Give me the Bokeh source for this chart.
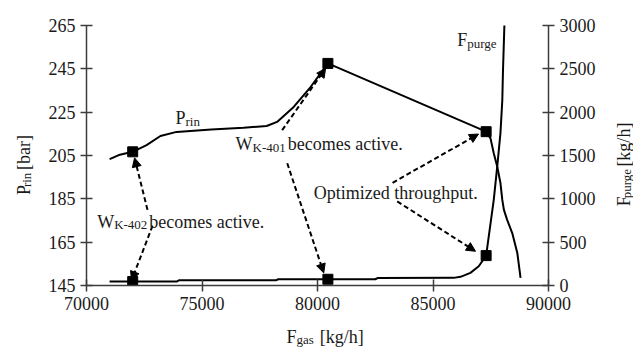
import math
from bokeh.plotting import figure
from bokeh.layouts import row, column
from bokeh.models import Range1d, LinearAxis, FixedTicker, Label, Arrow, NormalHead
from bokeh.core.properties import value
from bokeh.embed import file_html
from bokeh.resources import INLINE

# ---------------- data ----------------
fgas_prin = [71000, 71400, 72000, 72600, 73200, 73900, 75400, 76800, 77800, 78250,
             78970, 79700, 80450, 87300, 87490, 87630, 87780, 87920, 88000, 88070,
             88210, 88430, 88650, 88790]
p_rin = [203.3, 205.2, 206.7, 209.8, 214.0, 215.9, 217.0, 217.8, 218.6, 220.5,
         227.4, 236.6, 247.5, 216.0, 212.9, 206.0, 199.9, 192.3, 184.5, 179.9,
         175.3, 169.2, 160.0, 148.5]

fgas_purge = [71000, 73900, 74000, 78200, 78300, 82500, 82600, 85900, 86190, 86620,
              86980, 87300, 87630, 87780, 87920, 88000, 88030, 88095]
f_purge = [46, 46, 60, 60, 72, 72, 86, 88, 100, 146,
           222, 345, 988, 1371, 1758, 2137, 2482, 3040]

marker_fgas = [72000, 80450, 87300]
marker_prin = [206.7, 247.5, 216.0]
marker_purge = [46, 72, 345]

x_ticks = [70000, 75000, 80000, 85000, 90000]
left_ticks = [145, 165, 185, 205, 225, 245, 265]
right_ticks = [0, 500, 1000, 1500, 2000, 2500, 3000]

# arrows (x_start, y_start, x_end, y_end) in F_gas / P_rin units
arrow_x0 = [72640, 72860, 78470, 78690, 83250, 83450]
arrow_y0 = [179.9, 172.6, 216.7, 201.4, 192.4, 183.8]
arrow_x1 = [72080, 71950, 80350, 80270, 86970, 86840]
arrow_y1 = [203.9, 147.3, 245.2, 150.8, 214.9, 160.8]

# ---------------- layout sizes ----------------
W, H = 633, 347
LEFT_W, RIGHT_W, BOTTOM_H = 40, 33, 22
MAIN_W = W - LEFT_W - RIGHT_W
MAIN_H = H - BOTTOM_H
FL, FR, FT, FB = 86, 548, 25, 285          # frame edges in page pixels

FONT = "Liberation Serif"
MAIN = 18
SUB = 13
INK = "#1a1a1a"
AX = "#3c3c3c"
LIFT = 4      # baseline correction in px

p = figure(width=MAIN_W, height=MAIN_H,
           x_range=Range1d(70000, 90000), y_range=Range1d(145, 265),
           output_backend="svg", toolbar_location=None,
           min_border_left=FL - LEFT_W, min_border_right=(LEFT_W + MAIN_W) - FR,
           min_border_top=FT, min_border_bottom=MAIN_H - FB)
p.outline_line_color = None
p.xgrid.visible = False
p.ygrid.visible = False

p.extra_y_ranges = {"purge": Range1d(0, 3000)}
raxis = LinearAxis(y_range_name="purge")
p.add_layout(raxis, "right")

p.xaxis[0].ticker = FixedTicker(ticks=x_ticks)
p.yaxis[0].ticker = FixedTicker(ticks=left_ticks)
raxis.ticker = FixedTicker(ticks=right_ticks)

for ax in [p.xaxis[0], p.yaxis[0], raxis]:
    ax.major_label_text_font = FONT
    ax.major_label_text_font_size = f"{MAIN}px"
    ax.major_label_text_color = INK
    ax.axis_line_color = AX
    ax.axis_line_width = 1.5
    ax.major_tick_line_color = AX
    ax.major_tick_line_width = 1.5
    ax.major_tick_in = 6
    ax.major_tick_out = 6
    ax.minor_tick_line_color = None
    ax.major_label_standoff = 5

# ---------------- curves ----------------
p.line(fgas_prin, p_rin, line_color="black", line_width=2)
p.line(fgas_purge, f_purge, line_color="black", line_width=2, y_range_name="purge")
p.scatter(marker_fgas, marker_prin, marker="square", size=10, color="black")
p.scatter(marker_fgas, marker_purge, marker="square", size=10, color="black",
          y_range_name="purge")

for x0, y0, x1, y1 in zip(arrow_x0, arrow_y0, arrow_x1, arrow_y1):
    p.add_layout(Arrow(x_start=x0, y_start=y0, x_end=x1, y_end=y1,
                       line_color="black", line_width=2, line_dash="5 3",
                       end=NormalHead(size=9, fill_color="black", line_color="black",
                                      line_width=1)))

# ---------------- in-plot texts ----------------
def data_label(text, x, y, size, dx=0, dy=0):
    p.add_layout(Label(x=x, y=y, x_offset=dx, y_offset=dy + LIFT, text=text,
                       text_font=FONT, text_font_size=f"{size}px",
                       text_color=INK, text_baseline="alphabetic"))

def sub_text(x, y, main, sub, rest, w_main, w_sub):
    data_label(main, x, y, MAIN)
    data_label(sub, x, y, SUB, dx=w_main, dy=-3)
    if rest:
        data_label(rest, x, y, MAIN, dx=w_main + w_sub + 2)

sub_text(73850, 220.4, "P", "rin", "", 10, 14.4)
sub_text(86050, 256.3, "F", "purge", "", 10, 29.6)
sub_text(70460, 172.6, "W", "K-402", "becomes active.", 17, 33.2)
sub_text(76450, 208.4, "W", "K-401", "becomes active.", 17, 33.2)
data_label("Optimized throughput.", 79840, 185.8, MAIN)

# ---------------- axis titles in small text panels ----------------
def text_panel(w, h):
    f = figure(width=w, height=h, x_range=Range1d(0, w), y_range=Range1d(0, h),
               output_backend="svg", toolbar_location=None,
               x_axis_type=None, y_axis_type=None,
               min_border_left=0, min_border_right=0,
               min_border_top=0, min_border_bottom=0)
    f.outline_line_color = None
    f.xgrid.visible = False
    f.ygrid.visible = False
    return f

def put(f, text, x, y, size, angle=0.0):
    f.text(x=[x], y=[y], text=[text], angle=angle,
           text_font=value(FONT), text_font_size=value(f"{size}px"),
           text_color=INK, text_align=value("left"),
           text_baseline=value("alphabetic"))

up = math.pi / 2

left_fig = text_panel(LEFT_W, MAIN_H)
lx, ly = 27 - LIFT, 113
put(left_fig, "P", lx, ly, MAIN, up)
put(left_fig, "rin", lx + 3, ly + 10, SUB, up)
put(left_fig, "[bar]", lx, ly + 10 + 14.4 + 7, MAIN, up)

right_fig = text_panel(RIGHT_W, MAIN_H)
rx, ry = 27 - LIFT, 99
put(right_fig, "F", rx, ry, MAIN, up)
put(right_fig, "purge", rx + 3, ry + 10, SUB, up)
put(right_fig, "[kg/h]", rx, ry + 10 + 29.6 + 10, MAIN, up)

bottom_fig = text_panel(W, BOTTOM_H)
bx, by = 286, 7 + LIFT
put(bottom_fig, "F", bx, by, MAIN)
put(bottom_fig, "gas", bx + 10, by - 2.5, SUB)
put(bottom_fig, "[kg/h]", bx + 10 + 17.3 + 6, by, MAIN)

layout = column(row(left_fig, p, right_fig, spacing=0), bottom_fig, spacing=0)

open("out.html", "w").write(file_html(layout, INLINE))
